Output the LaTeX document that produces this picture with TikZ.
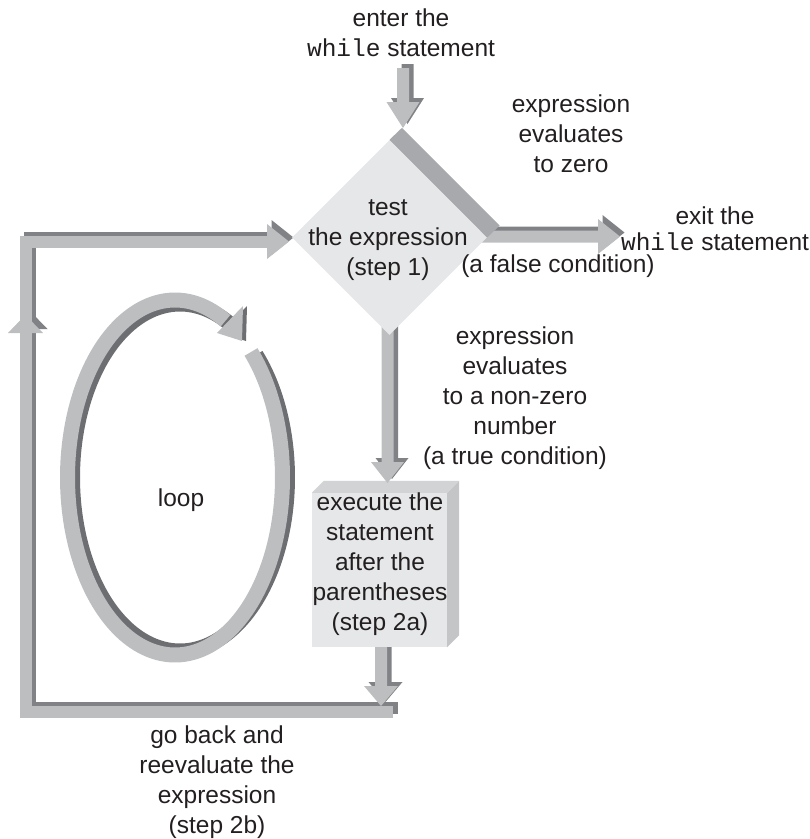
\documentclass[tikz,border=0pt]{standalone}
\usepackage{fontspec}
\setmainfont{Liberation Sans}
\setmonofont{Liberation Mono}
\usetikzlibrary{shapes.geometric,calc}
\definecolor{arrlight}{HTML}{BCBEC0}
\definecolor{arrdark}{HTML}{808285}
\definecolor{ringdark}{HTML}{6D6E71}
\definecolor{face}{HTML}{E6E7E8}
\definecolor{band}{HTML}{A7A9AC}
\definecolor{boxtop}{HTML}{D1D3D4}
\definecolor{boxside}{HTML}{C4C5C7}
\definecolor{ink}{HTML}{231F20}
\newcommand\solidshape[1]{\fill[arrdark,shift={(4.5,-4)}] #1; \fill[arrlight] #1;}
\tikzset{
  lbl/.style={text=ink, font=\fontsize{24.5pt}{30pt}\selectfont, align=center, inner sep=0pt},
  bar/.style={line width=12pt, line join=miter, line cap=butt},
  ring/.style={line width=15pt, line cap=butt},
}
\begin{document}
\begin{tikzpicture}[x=1pt,y=-1pt]
\useasboundingbox (0,0) rectangle (810,839);
% loop ring
\draw[ring, ringdark] plot[domain=45:-298, samples=180] ({180+107.5*cos(\x)},{477.5-173.5*sin(\x)});
\draw[ring, arrlight] plot[domain=45:-298, samples=180] ({175+107.5*cos(\x)},{477.5-177.5*sin(\x)});
\fill[ringdark] (221,333) -- (247,306) -- (246,341) -- cycle;
\fill[arrlight] (217,333) -- (243,306) -- (242,341) -- cycle;
% go-back path
\draw[bar, arrdark] (397.5,708) -- (30,708) -- (30,237.5) -- (272.5,237.5);
\fill[arrdark] (12.5,329) -- (47.5,329) -- (30,311) -- cycle;
\draw[bar, arrlight] (393,712) -- (25.5,712) -- (25.5,241.5) -- (268,241.5);
\fill[arrlight] (8,333) -- (43,333) -- (25.5,315) -- cycle;
\solidshape{(267,224) -- (289,241.5) -- (267,259) -- cycle}
% box -> bar arrow
\solidshape{(375,645) -- (387,645) -- (387,686) -- (398,686) -- (381,706) -- (364,686) -- (375,686) -- cycle}
% box
\node[fill=face, minimum width=135pt, minimum height=154pt, inner sep=0pt] (box) at (379.5,570) {};
\fill[boxtop] (box.north west) -- ++(12,-12) -- ([shift={(12,-12)}]box.north east) -- (box.north east) -- cycle;
\fill[boxside] (box.north east) -- ++(12,-12) -- ([shift={(12,-12)}]box.south east) -- (box.south east) -- cycle;
% diamond -> box
\solidshape{(381.5,325) -- (393.5,325) -- (393.5,462) -- (404,462) -- (387.5,483) -- (371,462) -- (381.5,462) -- cycle}
% enter arrow
\solidshape{(397,68) -- (409,68) -- (409,102) -- (419.5,102) -- (403,128) -- (386.5,102) -- (397,102) -- cycle}
% exit arrow
\solidshape{(480,230.5) -- (598,230.5) -- (598,219) -- (620,236.5) -- (598,254) -- (598,242.5) -- (480,242.5) -- cycle}
% diamond
\node[diamond, fill=face, minimum width=195pt, minimum height=195pt, inner sep=0pt] (dia) at (389.5,237.5) {};
\fill[band] (dia.north) -- ++(12.5,-12) -- ([shift={(12.5,-12)}]dia.east) -- (dia.east) -- cycle;
% texts
\node[lbl] (enter) at (401,33) {enter the\\\texttt{while} statement};
\node[lbl] (zero) at (571,134) {expression\\evaluates\\to zero};
\node[lbl] (exit) at (715,229) {exit the\\[-4pt]\texttt{while} statement};
\node[lbl] (false) at (558,266) {(a false condition)};
\node[lbl] (test) at (388,240) {test\\the expression\\(step 1)};
\node[lbl] (truecond) at (515,398) {expression\\evaluates\\to a non-zero\\number\\(a true condition)};
\node[lbl] (loop) at (181,500) {loop};
\node[lbl] (step2a) at (380,564) {execute the\\statement\\after the\\parentheses\\(step 2a)};
\node[lbl] (goback) at (217,782) {go back and\\reevaluate the\\expression\\(step 2b)};
\end{tikzpicture}
\end{document}
